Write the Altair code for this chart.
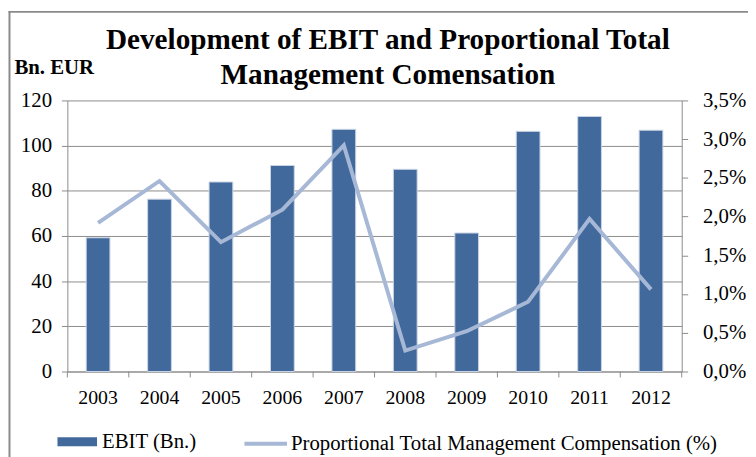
import altair as alt
import pandas as pd

# ---- data ----
years = ["2003", "2004", "2005", "2006", "2007", "2008", "2009", "2010", "2011", "2012"]
ebit = [59.2, 76.3, 83.9, 91.2, 107.2, 89.5, 61.3, 106.3, 112.9, 106.8]
comp = [1.92, 2.46, 1.67, 2.09, 2.92, 0.27, 0.52, 0.90, 1.97, 1.06]
ebit_name = "EBIT (Bn.)"
comp_name = "Proportional Total Management Compensation (%)"
left_ticks = [0, 20, 40, 60, 80, 100, 120]
right_ticks = [0, 0.5, 1.0, 1.5, 2.0, 2.5, 3.0, 3.5]
title_lines = ["Development of EBIT and Proportional Total", "Management Comensation"]
left_title = "Bn. EUR"

df = pd.DataFrame({"year": years, "ebit": ebit, "comp": comp,
                   "s1": [ebit_name] * len(years), "s2": [comp_name] * len(years)})

FONT = "Liberation Serif"
W, H = 621, 274
GRAY = "#8c8c8c"
BAR = "#42699c"
LINE = "#a6b8d6"

x_scale = alt.Scale(paddingInner=0, paddingOuter=0)
x_axis = alt.Axis(title=None, labelAngle=0, ticks=False, tickSize=0, labelPadding=32,
                  labelBaseline="alphabetic", labelFont=FONT, labelFontSize=20,
                  labelColor="#000000", domainColor=GRAY, grid=False)

base = alt.Chart(df)

bars = base.mark_bar(size=24, stroke="#c9d4e6", strokeWidth=1).encode(
    x=alt.X("year:O", sort=years, scale=x_scale, axis=x_axis),
    y=alt.Y("ebit:Q", scale=alt.Scale(domain=[0, 120], nice=False),
            axis=alt.Axis(orient="left", values=left_ticks, grid=True, gridColor=GRAY,
                          domainColor=GRAY, tickColor=GRAY, tickSize=6, labelPadding=10,
                          labelFont=FONT, labelFontSize=21, labelColor="#000000",
                          title=left_title, titleAngle=0, titleX=-54, titleY=-27,
                          titleAlign="left", titleBaseline="alphabetic", titleFont=FONT,
                          titleFontSize=21, titleFontWeight="bold", titleColor="#000000")),
    color=alt.Color("s1:N", scale=alt.Scale(domain=[ebit_name], range=[BAR]),
                    legend=alt.Legend(orient="none", legendX=-10, legendY=325, title=None,
                                      symbolType="M-1,-0.225L1,-0.225L1,0.225L-1,0.225Z",
                                      symbolSize=1600, symbolStrokeWidth=0, padding=0,
                                      labelFont=FONT, labelFontSize=21, labelColor="#000000",
                                      labelOffset=5, labelLimit=1000)),
)

line = base.mark_line(strokeWidth=4).encode(
    x=alt.X("year:O", sort=years, scale=x_scale, axis=x_axis),
    y=alt.Y("comp:Q", scale=alt.Scale(domain=[0, 3.5], nice=False),
            axis=alt.Axis(orient="right", values=right_ticks, grid=False, title=None,
                          domainColor=GRAY, tickColor=GRAY, tickSize=6, labelPadding=15,
                          labelFont=FONT, labelFontSize=21, labelColor="#000000",
                          labelExpr="replace(format(datum.value, '.1f'), '.', ',') + '%'")),
    color=alt.Color("s2:N", scale=alt.Scale(domain=[comp_name], range=[LINE]),
                    legend=alt.Legend(orient="none", legendX=177, legendY=323.5, title=None,
                                      symbolType="stroke", symbolSize=1849,
                                      symbolStrokeWidth=4, padding=0,
                                      labelFont=FONT, labelFontSize=21, labelColor="#000000",
                                      labelOffset=2, labelLimit=1000)),
)

xticks = base.mark_rule(color=GRAY, strokeWidth=1).encode(
    x=alt.X("year:O", sort=years, scale=x_scale, axis=x_axis, bandPosition=0),
    y=alt.value(H), y2=alt.value(H + 6),
)
xtick_end = alt.Chart(df.tail(1)).mark_rule(color=GRAY, strokeWidth=1).encode(
    x=alt.X("year:O", sort=years, scale=x_scale, axis=x_axis, bandPosition=1),
    y=alt.value(H), y2=alt.value(H + 6),
)

title1 = alt.Chart(pd.DataFrame({"t": [title_lines[0]]})).mark_text(
    font=FONT, fontSize=29.5, fontWeight="bold", color="#000000", align="center",
    baseline="alphabetic").encode(text="t:N", x=alt.value(324), y=alt.value(-52))
title2 = alt.Chart(pd.DataFrame({"t": [title_lines[1]]})).mark_text(
    font=FONT, fontSize=29.5, fontWeight="bold", color="#000000", align="center",
    baseline="alphabetic").encode(text="t:N", x=alt.value(324), y=alt.value(-17))

frame_df = pd.DataFrame({"k": [0]})
frame_left = alt.Chart(frame_df).mark_rule(color="#8a8a8a", strokeWidth=2).encode(
    x=alt.value(-58.5), y=alt.value(-90.5), y2=alt.value(H + 100))
frame_top = alt.Chart(frame_df).mark_rule(color="#8a8a8a", strokeWidth=2).encode(
    x=alt.value(-59.5), x2=alt.value(W + 100), y=alt.value(-89.5))

chart = alt.layer(bars, line, xticks, xtick_end, title1, title2, frame_left, frame_top).resolve_scale(
    y="independent", color="independent"
).properties(
    width=W, height=H,
    autosize=alt.AutoSizeParams(type="none"),
    padding={"left": 60, "top": 91, "right": 67, "bottom": 84},
    background="white",
).configure_view(stroke=None)

chart.save("out.html", embed_options={"renderer": "svg", "actions": False})
